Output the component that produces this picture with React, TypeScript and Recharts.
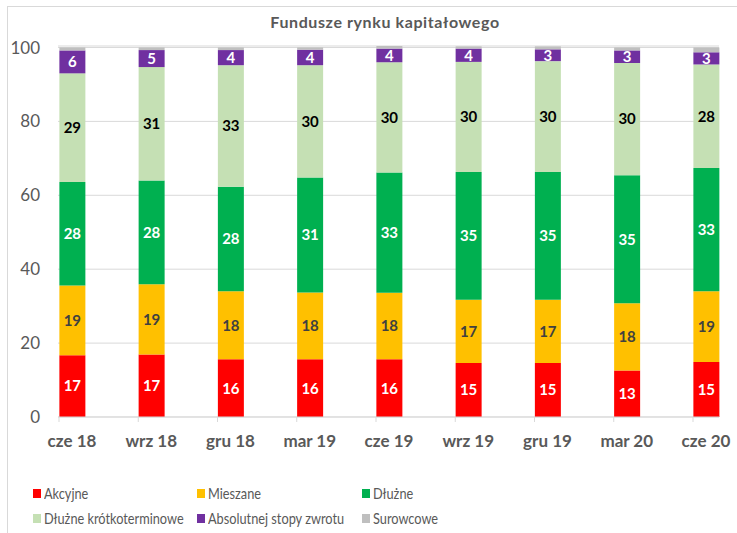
import React from 'react';
import {BarChart, Bar, XAxis, YAxis, CartesianGrid, LabelList} from 'recharts';

const categories = ['cze 18', 'wrz 18', 'gru 18', 'mar 19', 'cze 19', 'wrz 19', 'gru 19', 'mar 20', 'cze 20'];
const akcyjne = [16.7, 16.9, 15.6, 15.6, 15.6, 14.6, 14.6, 12.6, 14.9];
const mieszane = [18.9, 19.0, 18.4, 18.1, 18.0, 17.1, 17.1, 18.2, 19.1];
const dluzne = [28.0, 28.1, 28.3, 31.1, 32.6, 34.6, 34.6, 34.6, 33.4];
const krotkoterminowe = [29.4, 30.7, 32.9, 30.4, 29.8, 29.8, 30.0, 30.4, 28.0];
const absolutnej = [6.2, 4.6, 4.1, 4.2, 3.7, 3.6, 3.2, 3.4, 3.3];
const surowcowe = [0.8, 0.7, 0.7, 0.6, 0.7, 0.6, 0.8, 0.8, 1.3];
const yTicks = [0, 20, 40, 60, 80, 100];

const SERIES = [
  {key: 'akcyjne', name: 'Akcyjne', color: '#FF0000', label: '#FFFFFF'},
  {key: 'mieszane', name: 'Mieszane', color: '#FFC000', label: '#404040'},
  {key: 'dluzne', name: 'Dłużne', color: '#00B050', label: '#FFFFFF'},
  {key: 'krotko', name: 'Dłużne krótkoterminowe', color: '#C5E0B4', label: '#000000'},
  {key: 'abs', name: 'Absolutnej stopy zwrotu', color: '#7030A0', label: '#FFFFFF'},
  {key: 'sur', name: 'Surowcowe', color: '#BFBFBF', label: null}
];

const data = categories.map((c, i) => ({
  name: c,
  akcyjne: akcyjne[i],
  mieszane: mieszane[i],
  dluzne: dluzne[i],
  krotko: krotkoterminowe[i],
  abs: absolutnej[i],
  sur: surowcowe[i]
}));

const FONT = 'Lato, "Open Sans", sans-serif';
const GRAY = '#595959';

const XTick = (props: any) => {
  const {x, y, payload} = props;
  return (
    <g>
      <line x1={x - 13} y1={y} x2={x - 13} y2={y + 5} stroke="#D9D9D9" />
      <text x={x} y={y + 30} textAnchor="middle" fill={GRAY} fontSize={17} fontWeight={700} fontFamily={FONT}>
        {payload.value}
      </text>
    </g>
  );
};

export default function App() {
  const legendPos = [
    {x: 33, y: 494},
    {x: 197, y: 494},
    {x: 362, y: 494},
    {x: 33, y: 519},
    {x: 197, y: 519},
    {x: 362, y: 519}
  ];
  return (
    <div style={{position: 'absolute', left: 0, top: 0, width: 737, height: 533, background: '#fff', overflow: 'hidden', fontFamily: FONT}}>
      <div style={{position: 'absolute', left: 7, top: 6, width: 800, height: 600, borderLeft: '1px solid #D9D9D9', borderTop: '1px solid #D9D9D9'}} />
      <div style={{position: 'absolute', left: 0, top: 12, width: 770, textAlign: 'center', fontSize: 16, letterSpacing: 0.6, fontWeight: 700, color: GRAY}}>
        Fundusze rynku kapitałowego
      </div>
      <div style={{position: 'absolute', left: 0, top: 0}}>
        <BarChart width={737} height={460} data={data} margin={{top: 46, right: 18, left: 0, bottom: 0}}>
          <CartesianGrid vertical={false} stroke="#D9D9D9" />
          <XAxis
            dataKey="name"
            scale="point"
            padding={{left: 14, right: 13}}
            height={43}
            tickLine={false}
            tickSize={0}
            tickMargin={0}
            axisLine={{stroke: '#D9D9D9'}}
            tick={<XTick />}
            interval={0}
          />
          <YAxis
            width={58}
            domain={[0, 100]}
            ticks={yTicks}
            axisLine={false}
            tickLine={false}
            tickSize={0}
            tickMargin={18}
            tick={{fill: GRAY, fontSize: 17, fontFamily: FONT}}
          />
          {SERIES.map((s) => (
            <Bar key={s.key} dataKey={s.key} name={s.name} stackId="a" fill={s.color} barSize={26} isAnimationActive={false}>
              {s.label && (
                <LabelList
                  dataKey={s.key}
                  position="center"
                  formatter={(v: any) => Math.round(Number(v))}
                  fill={s.label}
                  fontSize={15}
                  fontWeight={700}
                  fontFamily={FONT}
                />
              )}
            </Bar>
          ))}
        </BarChart>
      </div>
      {SERIES.map((s, i) => (
        <div
          key={s.key}
          style={{position: 'absolute', left: legendPos[i].x, top: legendPos[i].y - 10, display: 'flex', alignItems: 'center', fontSize: 15, color: GRAY, whiteSpace: 'nowrap'}}
        >
          <span style={{display: 'inline-block', width: 8, height: 9, background: s.color, marginRight: 3}} />
          <span style={{display: 'inline-block', transform: 'scaleX(0.85)', transformOrigin: 'left center'}}>{s.name}</span>
        </div>
      ))}
    </div>
  );
}
